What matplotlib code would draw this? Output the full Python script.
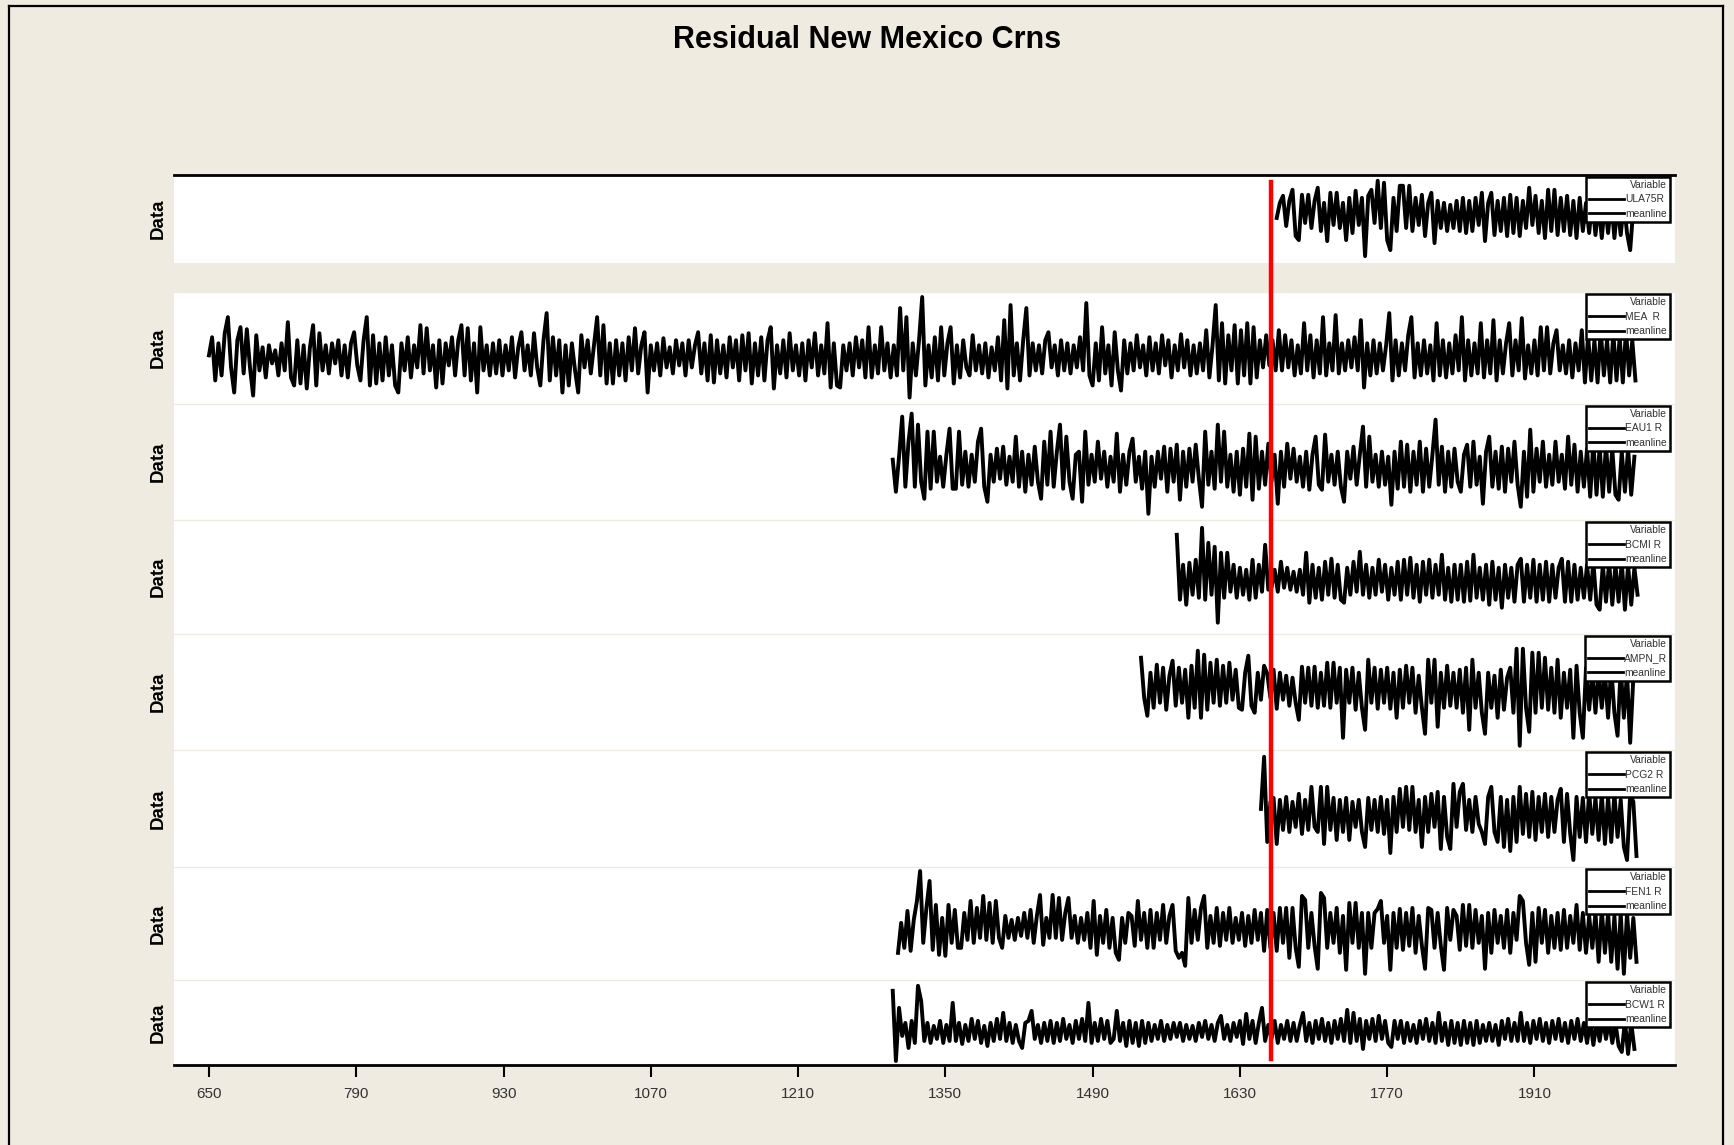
import matplotlib
matplotlib.use("Agg")
import matplotlib.pyplot as plt
import matplotlib.transforms as mtransforms
from matplotlib.lines import Line2D

plt.rcParams['font.family'] = ['Liberation Sans', 'DejaVu Sans']

# residual chronologies, deviation from mean (x100), one reading every STEP years
STEP = 3

ula75r = [
    -5, 10, 17, -13, 12, 23, -23, -27, 18, -10,
    18, -15, 12, 25, -18, 10, -28, 20, -12, 20,
    -15, 10, -27, 15, -20, 22, -12, 15, -43, 17,
    23, -10, 32, -15, 30, -27, -37, 15, -18, 27,
    27, -15, 27, -18, 15, -12, 18, -23, 10, 20,
    -30, 12, -15, 10, -18, 8, -15, 12, -18, 15,
    -20, 12, -18, 15, -12, 20, -28, 10, 20, -22,
    12, -18, 15, -23, 18, -20, 15, -23, 12, -15,
    25, -12, 17, -20, 12, -25, 23, -18, 23, -22,
    15, -18, 17, -22, 12, -25, 15, -18, 10, -20,
    12, -22, 8, -25, 10, -20, 12, -25, 8, -22,
    10, -20, -37, 5]

mea_r = [
    0, 18, -25, 12, -20, 22, 38, -12, -37, 15,
    28, -18, 26, -12, -40, 20, -15, 8, -22, 10,
    -8, 5, -20, 12, -15, 33, -22, -30, 15, -28,
    10, -33, 8, 30, -30, 22, -15, 10, -18, 12,
    -8, 15, -20, 10, -22, 12, 23, -10, -25, 15,
    38, -30, 20, -28, 12, -25, 18, -20, 10, -30,
    -37, 12, -15, 18, -22, 10, -12, 30, -18, 27,
    -15, 10, -32, 15, -28, 12, -10, 18, -20, 15,
    30, -20, 27, -25, 12, -37, 28, -15, 10, -20,
    12, -18, 15, -20, 10, -15, 18, -22, 8, 23,
    -15, 10, -20, 22, -12, -30, 15, 42, -25, 18,
    -20, 15, -37, 10, -30, 12, -15, -37, 20, -12,
    15, -18, 10, 38, -20, 30, -28, 12, -28, 15,
    -20, 12, -25, 18, -15, 27, -18, 10, 23, -37,
    10, -15, 12, -20, 17, -12, 8, -18, 15, -10,
    12, -20, 15, -12, 10, 23, -18, 12, -25, 20,
    -27, 15, -18, 10, -22, 18, -12, 15, -25, 20,
    -15, 22, -28, 12, -20, 18, -25, 15, 28, -33,
    10, -18, 15, -22, 22, -15, 10, -20, 12, -25,
    15, -12, 22, -20, 10, -18, 32, -32, 12, -30,
    -32, 10, -15, 12, -20, 18, -12, 15, -22, 28,
    -22, 10, -18, 28, -15, 12, -22, 10, -20, 47,
    -15, 38, -42, 12, -20, 15, 58, -30, 10, -22,
    18, -25, 28, -20, 12, 28, -28, 10, -22, 15,
    -12, -20, 20, -15, 10, -18, 12, -22, 8, -15,
    18, -25, 35, -33, 50, -20, 12, -25, 15, 47,
    -20, 12, -15, 10, -18, 15, 23, -12, 10, -20,
    15, -15, 12, -18, 10, -12, 18, -15, 52, -20,
    -30, 12, -25, 28, -18, 10, -30, 23, -15, -35,
    15, -18, 12, -15, 20, -12, 10, -20, 18, -15,
    12, -18, 20, -10, 15, -22, 10, -15, 21, -12,
    15, -20, 10, -18, 12, -15, 25, -22, 10, 50,
    -25, 32, -28, 20, -15, 30, -28, 25, -20, 32,
    -28, 28, -22, 15, -12, 20, -10, 15, -15, 25,
    -15, 20, -12, 15, -20, 10, -18, 32, -15, 20,
    -22, 15, -18, 38, -20, 12, -15, 40, -18, 12,
    -15, 15, -12, 18, -15, 35, -32, 12, -20, 15,
    -18, 12, -15, 10, 42, -25, 15, -20, 12, -15,
    20, 38, -22, 12, -20, 15, -18, 10, -25, 32,
    -20, 15, -22, 12, -18, 20, -15, 38, -25, 15,
    -20, 12, -18, 32, -22, 15, -18, 35, -25, 15,
    -18, 12, 32, -20, 15, -15, 37, -23, 10, -18,
    15, -20, 28, -15, 28, -18, 12, 25, -15, 10,
    -18, 15, -22, 12, -15, 25, -27, 20, -25, 15,
    -27, 25, -20, 15, -27, 22, -25, 18, -27, 25,
    -20, 15, -25]

eau1_r = [
    7, -25, 10, 50, -20, 25, 53, -20, 42, -15,
    -32, 35, -22, 35, -15, 10, -20, 12, 38, -22,
    -22, 35, -18, 15, -20, 12, -15, 25, 38, -20,
    -35, 12, -15, 18, -12, 20, -18, 10, -15, 30,
    -20, 15, -25, 12, -18, 20, -15, -32, 25, -18,
    35, -20, 15, 42, -22, 30, -15, -32, 12, 15,
    -35, 35, -18, 12, -15, 25, -12, 15, -20, 10,
    -15, 33, -25, 12, -18, 15, 28, -15, 10, -22,
    15, -47, 10, -20, 15, -12, 20, -25, 18, -15,
    22, -33, 15, -20, 18, -15, 22, -12, -40, 35,
    -18, 15, -22, 42, -15, 35, -20, 12, -25, 15,
    -28, 18, -20, 33, -33, 30, -22, 15, -18, 23,
    -15, 12, -37, 15, -20, 23, -12, 18, -15, 10,
    -20, 15, -23, 12, 30, -18, -23, 32, -15, 12,
    -18, 15, -20, -35, 15, -12, 20, -18, 12, 40,
    -20, 30, -15, 12, -20, 15, -18, 10, -38, 15,
    -22, 25, -20, 22, -25, 15, -18, 25, -25, 18,
    -20, 12, 47, -18, 20, -25, 15, -20, 18, -15,
    -25, 12, 22, -20, 25, -18, 10, -37, 15, 30,
    -20, 15, -22, 20, -25, 18, -15, 25, -18, -40,
    15, -30, 37, -25, 18, -15, 25, -20, 12, -18,
    25, -15, 12, -22, 30, -18, 22, -25, 15, -20,
    18, -30, 25, -28, 20, -30, 22, -25, 18, -28,
    -33, 15, -25, 18, -28, 10]

bcmi_r = [
    45, -20, 15, -25, 17, -15, 20, -18, 52, -20,
    37, -15, 33, -43, 27, -18, 27, -12, 15, -18,
    12, -15, 10, -20, 20, -18, 15, -12, 35, -10,
    -8, 10, -12, 18, -8, 12, -10, 8, -12, 10,
    -15, 27, -23, 15, -18, 12, -20, 18, -15, 21,
    -18, 15, -20, -23, 12, -15, 18, -12, 28, -15,
    15, -18, 12, -15, 20, -12, 15, -20, 12, -15,
    18, -20, 20, -15, 22, -18, 15, -22, 18, -15,
    20, -18, 15, -15, 25, -20, 12, -22, 15, -20,
    15, -22, 18, -21, 25, -18, 12, -20, 15, -25,
    18, -20, 12, -28, 15, -18, 12, -22, 15, 21,
    -22, 15, -18, 20, -22, 15, -20, 18, -22, 15,
    -18, 12, 21, -22, 18, -22, 15, -20, 12, -18,
    15, -20, 18, -25, -30, 15, -22, 18, -25, 15,
    -22, 18, -30, 15, -25, 12, -15]

ampn_r = [
    30, -10, -28, 15, -20, 23, -15, 20, -22, 12,
    27, -18, 20, -15, 18, -30, 22, -20, 37, -30,
    33, -22, 25, -15, 28, -18, 22, -15, 25, -12,
    18, -20, -22, 15, 32, -18, -25, 15, -12, 22,
    14, -10, 18, -21, 15, -12, 12, -18, 10, -15,
    -32, 21, -15, 20, -18, 21, -20, 15, -18, 25,
    -20, 25, -15, 20, -50, 18, -15, 20, -22, 15,
    -20, -42, 28, -15, 20, -21, 18, -15, 20, -21,
    15, -30, 18, -20, 22, -15, 20, -25, 12, -20,
    -46, 28, -15, 28, -39, 15, -20, 22, -18, 15,
    -20, 18, -25, 20, -42, 28, -20, 15, -25, -46,
    15, -20, 12, -30, 18, -22, 10, 20, -25, 39,
    -58, 39, -20, -44, 35, -25, 35, -20, 30, -22,
    20, -25, 28, -30, 15, -20, 18, -50, 22, -25,
    -50, 20, -22, 15, -25, 18, -20, 15, -30, 20,
    -25, -48, 20, -30, 15, -55, 10]

pcg2_r = [
    3, 55, -30, 10, 14, -32, 12, -18, 15, -20,
    10, -15, 18, -22, 12, -18, 25, -15, -20, 25,
    -32, 25, -18, 14, -28, 12, -20, 14, -28, 10,
    -15, 12, -20, -35, 14, -18, 12, -20, 15, -22,
    12, -41, 15, -20, 23, -15, 25, -18, 25, -20,
    12, -35, 15, -20, 18, -15, 20, -37, 15, -25,
    -37, 28, -15, 20, 28, -18, 12, -20, 15, -12,
    -20, -32, 15, 25, -20, -30, 15, -35, 12, -39,
    15, -30, 25, -22, 18, -25, 20, -28, 15, -20,
    18, -25, 15, -20, 12, 23, -30, 18, -22, -48,
    15, -25, 14, -30, 20, -22, 14, -28, 18, -32,
    15, -30, 18, -25, 12, -35, -48, 18, 10, -44]

fen1_r = [
    -25, 5, -20, 17, -23, 8, 27, 57, -15, 20,
    47, -22, 23, -27, 10, -28, 23, -15, 18, -20,
    -20, 15, -12, 27, -15, 20, -10, 32, -12, 25,
    -15, 27, -10, -20, 12, -10, 8, -12, 10, -8,
    15, -10, 18, -15, 12, 33, -17, 10, -10, 33,
    -10, 30, -12, 15, 30, -10, 12, -15, 10, -12,
    15, -20, 27, -27, 12, -15, 18, -20, 10, -25,
    -32, 10, -15, 15, 12, -18, 27, -12, 15, -20,
    18, -20, 15, -12, 23, -15, 12, 23, -23, -30,
    -25, -38, 30, -15, 18, -12, 20, 32, -20, 12,
    -15, 20, -18, 15, -12, 20, -15, 10, -12, 15,
    -18, 12, -15, 18, -12, 15, -23, 18, -20, 15,
    -23, 20, -15, 20, -30, 20, -20, -39, 32, 28,
    -20, 15, -18, -41, 35, 30, -20, 15, -15, 20,
    -25, 12, -42, 25, -15, 25, -20, 15, -46, 15,
    -20, 15, 19, 27, -15, 12, -42, 15, -20, 19,
    -22, 15, -18, 20, -25, 12, -18, -41, 20, 18,
    -20, 15, -18, -42, 20, -12, 18, 12, -22, 23,
    -18, 23, -20, 18, -15, 12, -41, 15, -25, 18,
    -15, 12, -20, 18, -25, 15, -12, 32, 27, -15,
    -37, 15, -34, 20, -15, 18, -25, 12, -20, 15,
    -22, 18, -20, 12, -15, 23, -22, 15, -25, 12,
    -20, 15, -34, 18, -25, 15, -34, 12, -41, 15,
    -46, 15, -30, 10, -34]

bcw1_r = [
    40, -30, 23, -5, 8, -17, 10, -12, 45, 30,
    -10, 8, -12, 5, -8, 10, -12, 6, -10, 28,
    -10, 8, -13, 6, -10, 12, -8, 10, -12, 5,
    -15, 8, -10, 12, -8, 18, -10, 8, -12, 6,
    -10, -17, 8, 10, 20, -8, 6, -12, 8, -10,
    10, -12, 8, -10, 12, -8, 6, -12, 10, -8,
    12, -10, 28, -12, 8, -10, 12, -8, 10, -12,
    -8, 20, -10, 8, -15, 10, -12, 8, -15, 10,
    -12, 8, -10, 6, -8, 10, -10, 6, -8, 8,
    -6, 8, -10, 6, -8, 5, -10, 8, -6, 10,
    -8, 6, -10, 8, 15, -8, 6, -10, 8, -6,
    10, -13, 17, -8, 10, -12, 8, 23, -10, 6,
    -8, 10, -12, 6, -8, 10, -10, 8, -10, 6,
    18, -10, 8, -12, 10, -8, 12, -10, 8, -12,
    10, -8, 12, -10, 21, -12, 18, -10, 12, -18,
    10, -8, 12, -10, 15, -8, 10, -12, -16, 10,
    -8, 10, -12, 8, -10, 6, -12, 10, -8, 12,
    -10, 8, -12, 18, -10, 8, -14, 10, -12, 8,
    -14, 10, -12, 8, -14, 10, -12, 6, -10, 8,
    -10, 6, -14, 10, -8, 12, -10, 8, -10, 18,
    -10, 8, -12, 10, -8, 12, -10, 8, -12, 10,
    -8, 12, -10, 8, -12, 10, -8, 12, -10, 8,
    -12, 10, -14, 8, -10, 12, -8, 10, -12, 8,
    -15, -21, 10, -23, 8, -18]

names = ["ULA75R", "MEA  R", "EAU1 R", "BCMI R", "AMPN_R", "PCG2 R", "FEN1 R", "BCW1 R"]
start_years = [1665, 650, 1300, 1570, 1536, 1650, 1305, 1300]
series = [ula75r, mea_r, eau1_r, bcmi_r, ampn_r, pcg2_r, fen1_r, bcw1_r]
y_limits = [(-50, 38), (-48, 63), (-53, 63), (-54, 60), (-62, 54), (-55, 62), (-52, 61), (-34, 51)]
x_ticks = list(range(650, 1911, 140))
x_range = (616.4, 2043.6)
marker_year = 1660

BG = '#EFEBE1'
W, H = 1734, 1145
LEFT, RIGHT = 173.6, 1675
# panel top/bottom in pixels
panel_px = [(174.7, 263.2), (292, 403.6), (403.6, 519.8), (519.8, 633.7),
            (633.7, 749.8), (749.8, 867), (867, 979.8), (979.8, 1065)]

fig = plt.figure(figsize=(W / 100, H / 100), dpi=100, facecolor=BG)

# outer frame
for xs, ys in [((9 / W, 9 / W), (0, 1 - 5.5 / H)),
               ((9 / W, 1723 / W), (1 - 5.5 / H, 1 - 5.5 / H)),
               ((1723 / W, 1723 / W), (1 - 5.5 / H, 0))]:
    fig.add_artist(Line2D(xs, ys, transform=fig.transFigure, color='black', lw=1.6))

fig.text(0.5, 1 - 39.5 / H, "Residual New Mexico Crns", ha='center', va='center',
         fontsize=22, fontweight='bold')

axes = []
for i, (name, y0, vals, yl) in enumerate(zip(names, start_years, series, y_limits)):
    top, bot = panel_px[i]
    ax = fig.add_axes([LEFT / W, 1 - bot / H, (RIGHT - LEFT) / W, (bot - top) / H])
    ax.set_facecolor('white')
    years = [y0 + STEP * k for k in range(len(vals))]
    ax.plot(years, vals, color='black', lw=2.8)
    ax.set_xlim(*x_range)
    ax.set_ylim(*yl)
    ax.set_yticks([])
    for s in ['left', 'right', 'bottom']:
        ax.spines[s].set_visible(False)
    if i == 0:
        ax.spines['top'].set_color('black')
        ax.spines['top'].set_linewidth(2)
    else:
        ax.spines['top'].set_color(BG)
        ax.spines['top'].set_linewidth(1)
    if i == len(names) - 1:
        ax.spines['bottom'].set_visible(True)
        ax.spines['bottom'].set_linewidth(2)
        ax.set_xticks(x_ticks)
        ax.tick_params(axis='x', length=8.5, width=1.5, pad=7, labelsize=11,
                       labelcolor='#333333')
    else:
        ax.set_xticks([])
    ax.text(-0.0104, 0.5, 'Data', transform=ax.transAxes, rotation=90,
            ha='center', va='center', fontsize=13.5, fontweight='bold')

    handles = [Line2D([], [], color='black', lw=2), Line2D([], [], color='black', lw=2)]
    leg = ax.legend(handles, [name, 'meanline'], title='Variable', loc='upper right',
                    bbox_to_anchor=(1 - 5 / (RIGHT - LEFT), 1 - 2 / (bot - top)),
                    borderaxespad=0, fontsize=7.4, title_fontsize=7.4,
                    handlelength=3.4, handletextpad=0.1, labelspacing=0.45,
                    borderpad=0.3, fancybox=False, framealpha=1, alignment='right')
    leg.get_frame().set_edgecolor('black')
    leg.get_frame().set_linewidth(1.8)
    for t in leg.get_texts():
        t.set_color('#333333')
    leg.get_title().set_color('#333333')
    axes.append(ax)

# red reference line through all panels
trans = mtransforms.blended_transform_factory(axes[-1].transData, fig.transFigure)
fig.add_artist(Line2D([marker_year, marker_year], [1 - 182 / H, 1 - 1059 / H],
                      transform=trans, color='#FF0000', lw=3.2, zorder=10))

fig.savefig("out.png", dpi=100, facecolor=BG)
